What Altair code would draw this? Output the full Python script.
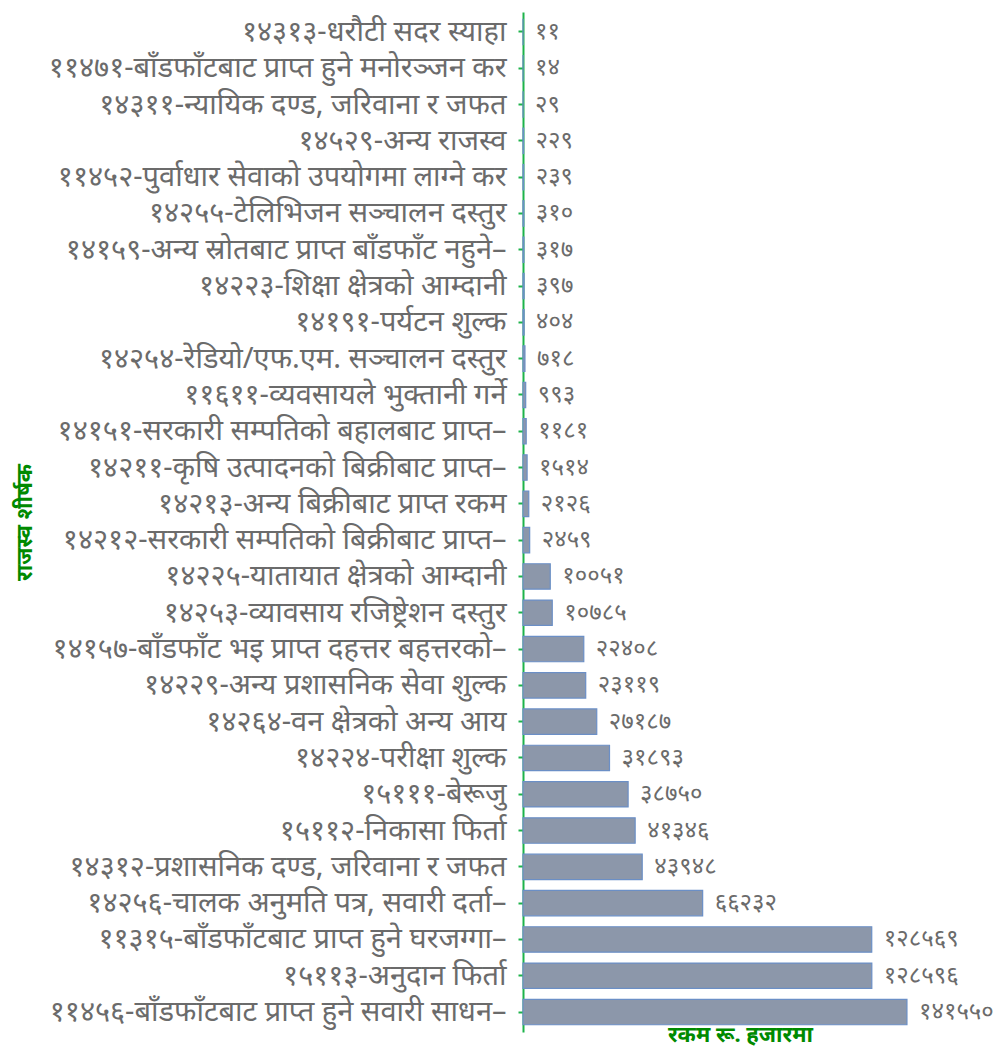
import altair as alt
import pandas as pd

categories = [
    "१४३१३-धरौटी सदर स्याहा",
    "११४७१-बाँडफाँटबाट प्राप्त हुने मनोरञ्जन कर",
    "१४३११-न्यायिक दण्ड, जरिवाना र जफत",
    "१४५२९-अन्य राजस्व",
    "११४५२-पुर्वाधार सेवाको उपयोगमा लाग्ने कर",
    "१४२५५-टेलिभिजन सञ्चालन दस्तुर",
    "१४१५९-अन्य स्रोतबाट प्राप्त बाँडफाँट नहुने–",
    "१४२२३-शिक्षा क्षेत्रको आम्दानी",
    "१४१९१-पर्यटन शुल्क",
    "१४२५४-रेडियो/एफ.एम. सञ्चालन दस्तुर",
    "११६११-व्यवसायले भुक्तानी गर्ने",
    "१४१५१-सरकारी सम्पतिको बहालबाट प्राप्त–",
    "१४२११-कृषि उत्पादनको बिक्रीबाट प्राप्त–",
    "१४२१३-अन्य बिक्रीबाट प्राप्त रकम",
    "१४२१२-सरकारी सम्पतिको बिक्रीबाट प्राप्त–",
    "१४२२५-यातायात क्षेत्रको आम्दानी",
    "१४२५३-व्यावसाय रजिष्ट्रेशन दस्तुर",
    "१४१५७-बाँडफाँट भइ प्राप्त दहत्तर बहत्तरको–",
    "१४२२९-अन्य प्रशासनिक सेवा शुल्क",
    "१४२६४-वन क्षेत्रको  अन्य आय",
    "१४२२४-परीक्षा शुल्क",
    "१५१११-बेरूजु",
    "१५११२-निकासा फिर्ता",
    "१४३१२-प्रशासनिक दण्ड, जरिवाना र जफत",
    "१४२५६-चालक अनुमति पत्र, सवारी दर्ता–",
    "११३१५-बाँडफाँटबाट प्राप्त हुने घरजग्गा–",
    "१५११३-अनुदान फिर्ता",
    "११४५६-बाँडफाँटबाट प्राप्त हुने सवारी साधन–",
]

values = [11, 14, 29, 229, 239, 310, 317, 397, 404, 718, 993, 1181, 1514, 2126,
          2459, 10051, 10785, 22408, 23119, 27187, 31893, 38750, 41346, 43948,
          66232, 128569, 128596, 141550]

deva = str.maketrans("0123456789", "०१२३४५६७८९")
value_labels = [str(v).translate(deva) for v in values]

df = pd.DataFrame({"cat": categories, "val": values, "lbl": value_labels})

FONT = "Noto Sans"
GRAY = "#6b6b6b"
GREEN = "#008a00"

y_enc = alt.Y(
    "cat:N",
    sort=categories,
    scale=alt.Scale(paddingInner=0.3, paddingOuter=0.2),
    axis=alt.Axis(
        title="राजस्व शीर्षक",
        titleColor=GREEN,
        titleFont=FONT,
        titleFontSize=22,
        titleFontWeight="bold",
        titleX=-487,
        titleAnchor="middle",
        labelFont=FONT,
        labelFontSize=29,
        labelColor=GRAY,
        labelLimit=700,
        labelPadding=12,
        domainColor="#1db34a",
        domainWidth=2,
        tickColor="#1db34a",
        tickWidth=2,
        tickSize=5,
    ),
)

x_enc = alt.X(
    "val:Q",
    scale=alt.Scale(domain=[0, 160000], nice=False),
    axis=alt.Axis(
        title="रकम रू. हजारमा",
        titleColor=GREEN,
        titleFont=FONT,
        titleFontSize=22,
        titleFontWeight="bold",
        titlePadding=-8,
        labels=False,
        ticks=False,
        domain=False,
        grid=False,
    ),
)

bars = alt.Chart(df).mark_bar(
    fill="#8c97aa", stroke="#6b8fc6", strokeWidth=1.2
).encode(y=y_enc, x=x_enc)

text = alt.Chart(df).mark_text(
    align="left", baseline="middle", dx=12, font=FONT, fontSize=24, color=GRAY
).encode(y=alt.Y("cat:N", sort=categories), x="val:Q", text="lbl:N")

chart = (
    alt.layer(bars, text)
    .properties(
        width=434,
        height=1020,
        autosize=alt.AutoSizeParams(type="none"),
        padding={"left": 515, "top": 4, "right": 38, "bottom": 16},
    )
    .configure(background="white", view=alt.ViewConfig(strokeWidth=0, stroke="transparent"))
)

chart.save("out.html", embed_options={"renderer": "svg", "actions": False})
